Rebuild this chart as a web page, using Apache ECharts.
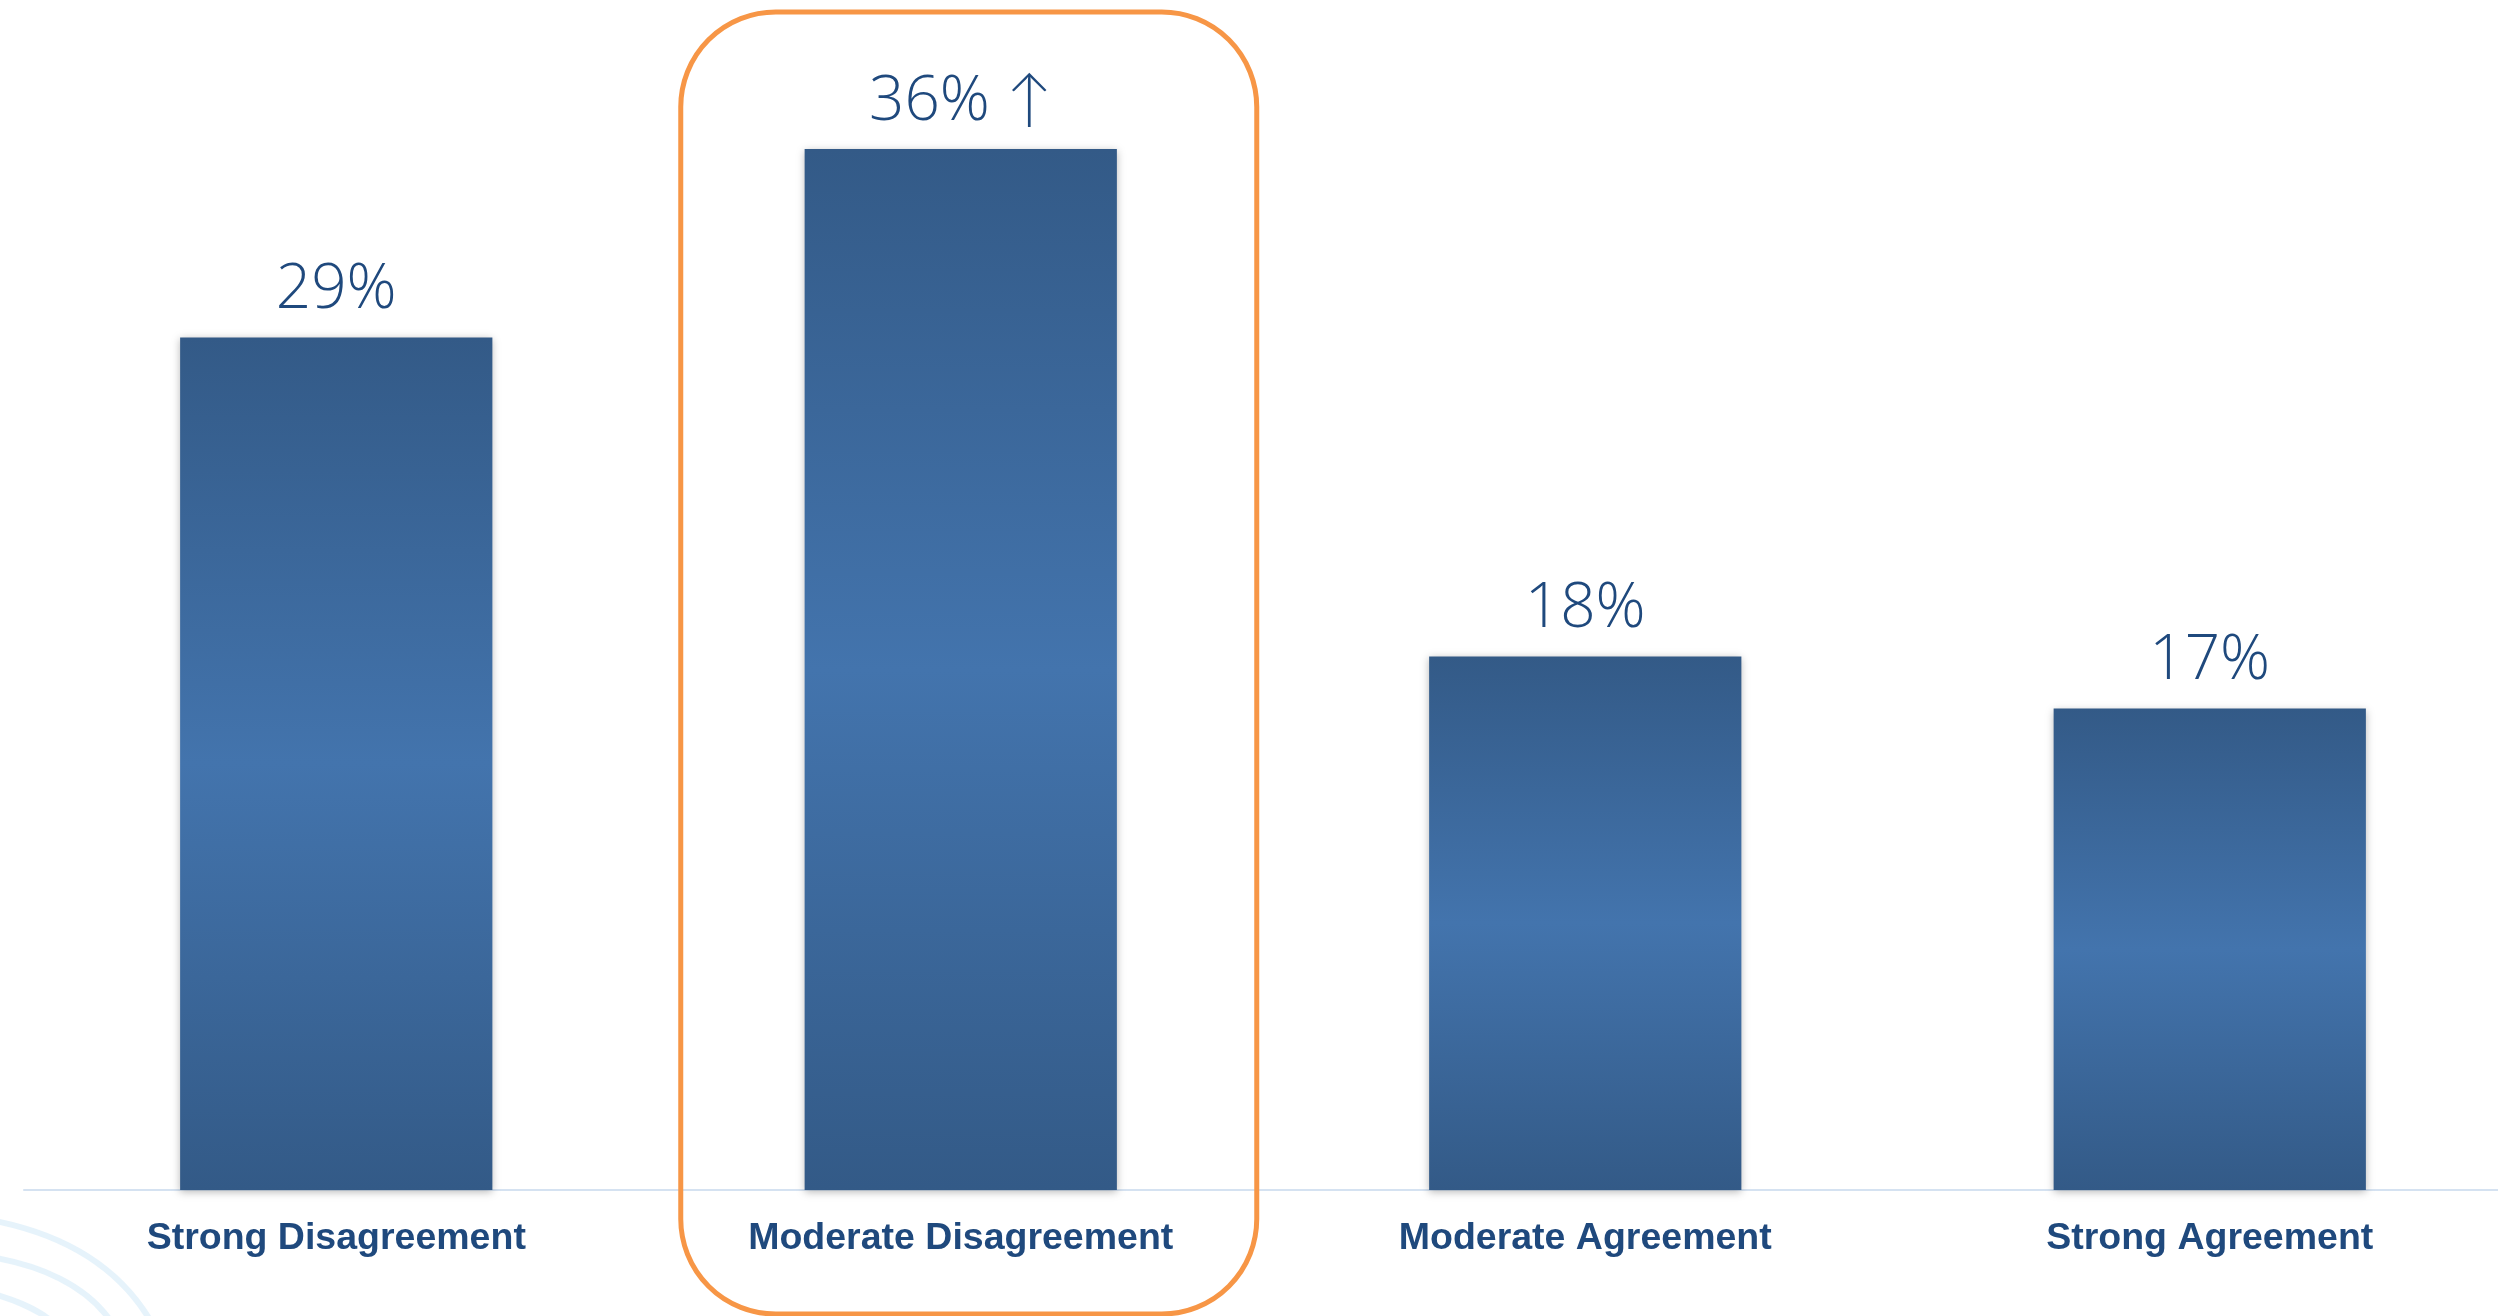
<!DOCTYPE html>
<html>
<head>
<meta charset="utf-8">
<script src="https://cdn.jsdelivr.net/npm/echarts@6/dist/echarts.min.js"></script>
<style>
html,body{margin:0;padding:0;background:#fff;overflow:hidden;width:2498px;height:1316px;}
#chart{width:2522px;height:1316px;}
</style>
</head>
<body>
<div id="chart"></div>
<script>
// Data
const categories = ['Strong Disagreement', 'Moderate Disagreement', 'Moderate Agreement', 'Strong Agreement'];
const values = [29.4, 35.9, 18.4, 16.6];          // percent (bar heights)
const labelSuffix = ['', ' \u2191', '', ''];        // arrow on the highlighted bar
const highlightIndex = 1;

const chart = echarts.init(document.getElementById('chart'), null, {renderer: 'canvas'});

const barGradient = {
  type: 'linear', x: 0, y: 0, x2: 0, y2: 1,
  colorStops: [
    {offset: 0, color: '#335a87'},
    {offset: 0.5, color: '#4374ad'},
    {offset: 1, color: '#335a87'}
  ]
};

const option = {
  backgroundColor: '#ffffff',
  animation: false,
  grid: {left: 24, right: 0, top: 30, bottom: 126, containLabel: false},
  xAxis: {
    type: 'category',
    data: categories,
    axisLine: {show: true, lineStyle: {color: '#d5e2f1', width: 2}},
    axisTick: {show: false},
    axisLabel: {
      margin: 30,
      fontFamily: '"Liberation Sans", Arial, sans-serif',
      fontWeight: 'bold',
      fontSize: 37.5,
      lineHeight: 37,
      color: '#1f497d'
    },
    splitLine: {show: false}
  },
  yAxis: {
    type: 'value', min: 0, max: 40, show: false,
    splitLine: {show: false}
  },
  series: [{
    type: 'bar',
    data: values,
    barWidth: '50%',
    itemStyle: {
      color: barGradient,
      shadowBlur: 8,
      shadowColor: 'rgba(0,0,0,0.28)',
      shadowOffsetY: 2
    },
    label: {
      show: true,
      position: 'top',
      distance: 16,
      fontFamily: '"Open Sans", Lato, sans-serif',
      fontWeight: 300,
      fontSize: 62,
      lineHeight: 62,
      color: '#1f497d',
      formatter: p => Math.round(p.value) + '%' + labelSuffix[p.dataIndex]
    }
  }]
};
chart.setOption(option);

// Highlight box around the highlighted category and faint corner decoration
const cx = chart.convertToPixel({xAxisIndex: 0}, categories[highlightIndex]);
const boxW = 576;
const deco = 'rgba(205,232,248,0.5)';
chart.setOption({
  graphic: [
    {
      type: 'rect',
      shape: {x: cx + 8 - boxW / 2, y: 12, width: boxW, height: 1302, r: 95},
      style: {fill: 'none', stroke: '#F79646', lineWidth: 5},
      z: 100
    },
    {
      type: 'group', silent: true, z: 0,
      children: [
        {type: 'bezierCurve', shape: {x1: -10, y1: 1220, x2: 150, y2: 1320, cpx1: 70, cpy1: 1235, cpx2: 120, cpy2: 1270}, style: {stroke: deco, lineWidth: 6, fill: 'none'}},
        {type: 'bezierCurve', shape: {x1: -10, y1: 1257, x2: 110, y2: 1320, cpx1: 40, cpy1: 1265, cpx2: 85, cpy2: 1285}, style: {stroke: deco, lineWidth: 6, fill: 'none'}},
        {type: 'bezierCurve', shape: {x1: -10, y1: 1293, x2: 50, y2: 1320, cpx1: 10, cpy1: 1298, cpx2: 35, cpy2: 1308}, style: {stroke: deco, lineWidth: 6, fill: 'none'}}
      ]
    }
  ]
});
</script>
</body>
</html>
